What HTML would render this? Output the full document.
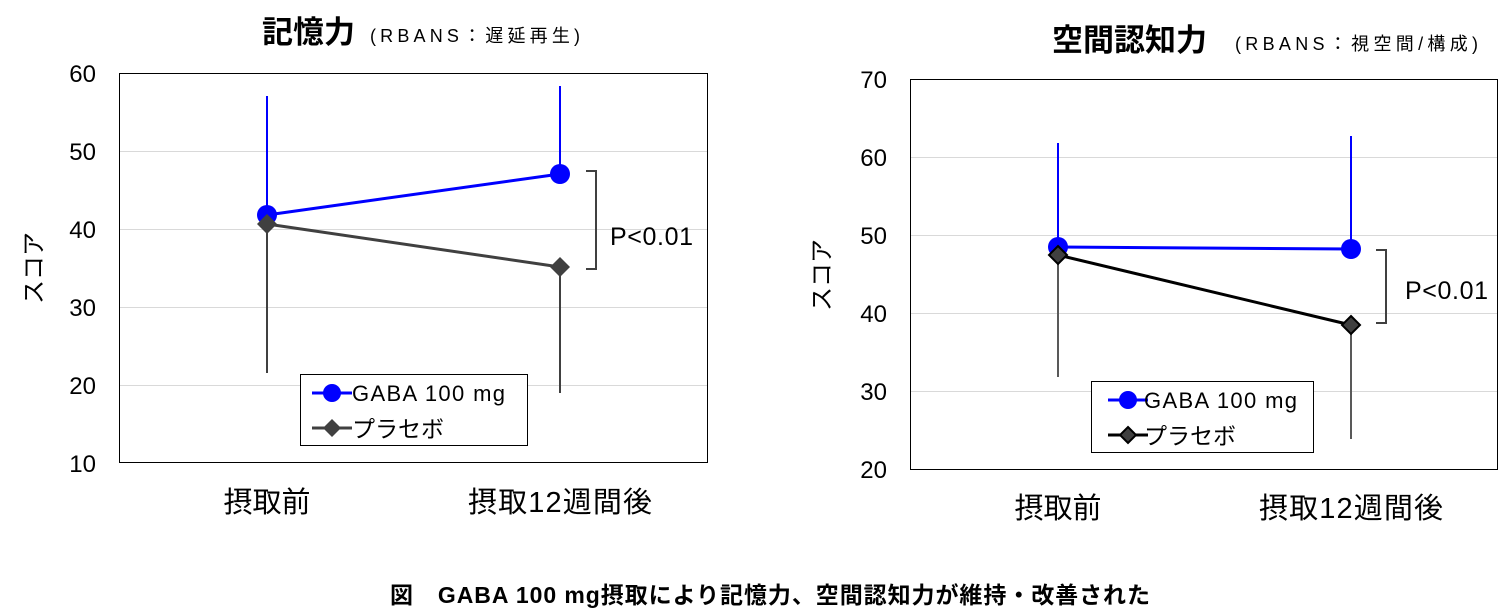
<!DOCTYPE html>
<html><head><meta charset="utf-8"><style>
html,body{margin:0;padding:0;background:#fff;}
svg{display:block;font-family:"Liberation Sans","Noto Sans CJK JP",sans-serif;}
</style></head><body>
<svg width="1512" height="614" viewBox="0 0 1512 614">
<g>
<text x="262" y="43" font-size="31" font-weight="bold" fill="#000">記憶力</text>
<text x="370" y="42" font-size="18" fill="#000" textLength="210">(RBANS：遅延再生)</text>
<rect x="119.5" y="73.5" width="588" height="389" fill="none" stroke="#000" stroke-width="1"/>
<g stroke="#d9d9d9" stroke-width="1">
<line x1="120" y1="151.5" x2="707" y2="151.5"/><line x1="120" y1="229.5" x2="707" y2="229.5"/>
<line x1="120" y1="307.5" x2="707" y2="307.5"/><line x1="120" y1="385.5" x2="707" y2="385.5"/>
</g>
<g font-size="24" text-anchor="end" fill="#000">
<text x="96" y="82">60</text><text x="96" y="160">50</text><text x="96" y="238">40</text>
<text x="96" y="316">30</text><text x="96" y="394">20</text><text x="96" y="472">10</text>
</g>
<text transform="translate(42,268) rotate(-90)" font-size="24" text-anchor="middle">スコア</text>
<text x="267" y="512" font-size="29" text-anchor="middle">摂取前</text>
<text x="560" y="512" font-size="29" text-anchor="middle" textLength="184">摂取12週間後</text>
<line x1="267" y1="96" x2="267" y2="215" stroke="#0000ff" stroke-width="2"/>
<line x1="560" y1="86" x2="560" y2="174" stroke="#0000ff" stroke-width="2"/>
<line x1="267" y1="224" x2="267" y2="373" stroke="#404040" stroke-width="2"/>
<line x1="560" y1="267" x2="560" y2="393" stroke="#404040" stroke-width="2"/>
<line x1="267" y1="224" x2="560" y2="267" stroke="#404040" stroke-width="3"/>
<line x1="267" y1="215" x2="560" y2="174" stroke="#0000ff" stroke-width="3"/>
<circle cx="267" cy="215" r="10" fill="#0000ff"/>
<circle cx="560" cy="174" r="10" fill="#0000ff"/>
<path d="M267 214 L277 224 L267 234 L257 224Z" fill="#404040"/>
<path d="M560 257 L570 267 L560 277 L550 267Z" fill="#404040"/>
<path d="M586 171 H596 V269 H586" fill="none" stroke="#404040" stroke-width="2"/>
<text x="610" y="245" font-size="25" textLength="83">P&lt;0.01</text>
<rect x="300.5" y="374.5" width="227" height="71" fill="#fff" stroke="#000"/>
<line x1="312" y1="393" x2="352" y2="393" stroke="#0000ff" stroke-width="3"/>
<circle cx="332" cy="393" r="9" fill="#0000ff"/>
<text x="352" y="401" font-size="22" textLength="153">GABA 100 mg</text>
<line x1="312" y1="428" x2="352" y2="428" stroke="#404040" stroke-width="3"/>
<path d="M332 419 L341 428 L332 437 L323 428Z" fill="#404040"/>
<text x="352" y="437" font-size="23">プラセボ</text>
</g>
<g>
<text x="1052" y="51" font-size="31" font-weight="bold">空間認知力</text>
<text x="1235" y="50" font-size="18" textLength="243">(RBANS：視空間/構成)</text>
<rect x="910.5" y="79.5" width="587" height="390" fill="none" stroke="#000"/>
<g stroke="#d9d9d9" stroke-width="1">
<line x1="911" y1="157.5" x2="1497" y2="157.5"/><line x1="911" y1="235.5" x2="1497" y2="235.5"/>
<line x1="911" y1="313.5" x2="1497" y2="313.5"/><line x1="911" y1="391.5" x2="1497" y2="391.5"/>
</g>
<g font-size="24" text-anchor="end">
<text x="887" y="88">70</text><text x="887" y="166">60</text><text x="887" y="244">50</text>
<text x="887" y="322">40</text><text x="887" y="400">30</text><text x="887" y="478">20</text>
</g>
<text transform="translate(830,275) rotate(-90)" font-size="24" text-anchor="middle">スコア</text>
<text x="1058" y="518" font-size="29" text-anchor="middle">摂取前</text>
<text x="1351" y="518" font-size="29" text-anchor="middle" textLength="184">摂取12週間後</text>
<line x1="1058" y1="143" x2="1058" y2="247" stroke="#0000ff" stroke-width="2"/>
<line x1="1351" y1="136" x2="1351" y2="249" stroke="#0000ff" stroke-width="2"/>
<line x1="1058" y1="255" x2="1058" y2="377" stroke="#595959" stroke-width="2"/>
<line x1="1351" y1="325" x2="1351" y2="439" stroke="#595959" stroke-width="2"/>
<line x1="1058" y1="247" x2="1351" y2="249" stroke="#0000ff" stroke-width="3"/>
<circle cx="1058" cy="247" r="10" fill="#0000ff"/>
<circle cx="1351" cy="249" r="10" fill="#0000ff"/>
<line x1="1058" y1="255" x2="1351" y2="325" stroke="#000" stroke-width="3"/>
<path d="M1058 246 L1067 255 L1058 264 L1049 255Z" fill="#404040" stroke="#000" stroke-width="2"/>
<path d="M1351 316 L1360 325 L1351 334 L1342 325Z" fill="#404040" stroke="#000" stroke-width="2"/>
<path d="M1376 250 H1386 V323 H1376" fill="none" stroke="#404040" stroke-width="2"/>
<text x="1405" y="299" font-size="25" textLength="83">P&lt;0.01</text>
<rect x="1091.5" y="381.5" width="222" height="71" fill="#fff" stroke="#000"/>
<line x1="1108" y1="400" x2="1148" y2="400" stroke="#0000ff" stroke-width="3"/>
<circle cx="1128" cy="400" r="9" fill="#0000ff"/>
<text x="1144" y="408" font-size="22" textLength="153">GABA 100 mg</text>
<line x1="1108" y1="435" x2="1148" y2="435" stroke="#000" stroke-width="3"/>
<path d="M1128 427 L1136 435 L1128 443 L1120 435Z" fill="#404040" stroke="#000" stroke-width="2"/>
<text x="1144" y="444" font-size="23">プラセボ</text>
</g>
<text x="390" y="603" font-size="23" font-weight="bold" textLength="760">図　GABA 100 mg摂取により記憶力、空間認知力が維持・改善された</text>
</svg>
</body></html>
